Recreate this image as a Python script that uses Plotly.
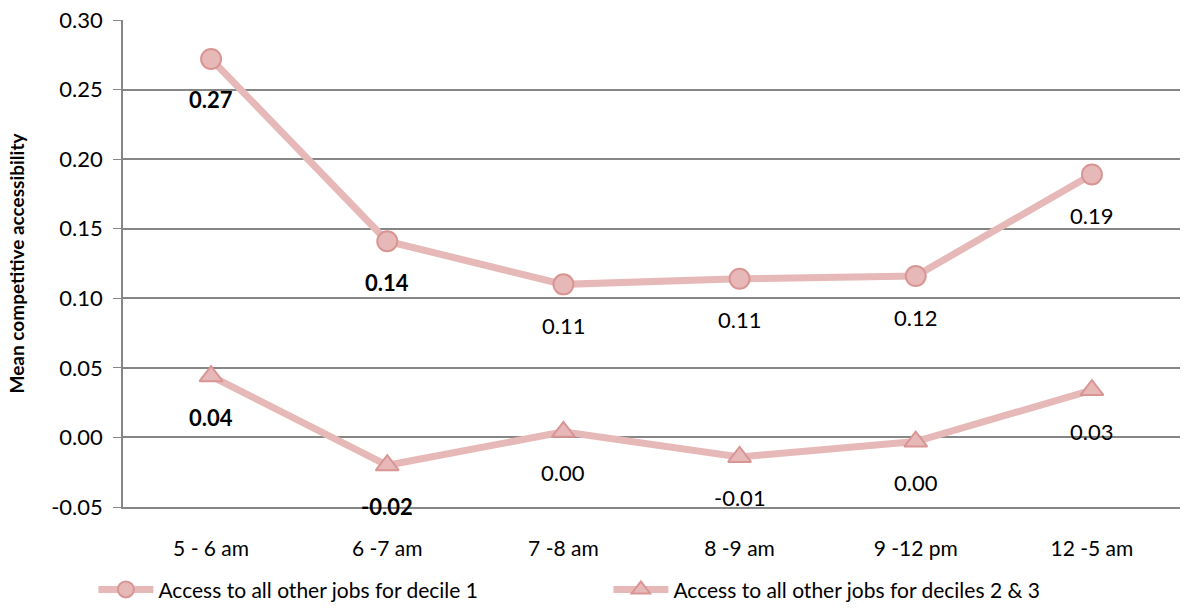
import plotly.graph_objects as go

categories = ["5 - 6 am", "6 -7 am", "7 -8 am", "8 -9 am", "9 -12 pm", "12 -5 am"]
decile1 = [0.272, 0.141, 0.110, 0.114, 0.116, 0.189]
decile1_labels = ["<b>0.27</b>", "<b>0.14</b>", "0.11", "0.11", "0.12", "0.19"]
deciles23 = [0.044, -0.020, 0.004, -0.014, -0.003, 0.034]
deciles23_labels = ["<b>0.04</b>", "<b>-0.02</b>", "0.00", "-0.01", "0.00", "0.03"]
y_ticks = [-0.05, 0.0, 0.05, 0.10, 0.15, 0.20, 0.25, 0.30]
y_tick_labels = ["-0.05", "0.00", "0.05", "0.10", "0.15", "0.20", "0.25", "0.30"]

LINE = "#E6B9B8"
EDGE = "#D99594"
FONT = "Lato, Open Sans, sans-serif"

fig = go.Figure()
fig.add_trace(go.Scatter(
    x=categories, y=decile1, mode="lines+markers",
    name="Access to all other jobs for decile 1",
    line=dict(color=LINE, width=7),
    marker=dict(symbol="circle", size=20, color=LINE, line=dict(color=EDGE, width=2)),
))
fig.add_trace(go.Scatter(
    x=categories, y=deciles23, mode="lines+markers",
    name="Access to all other jobs for deciles 2 & 3",
    line=dict(color=LINE, width=7),
    marker=dict(symbol="triangle-up", size=20, color=LINE, line=dict(color=EDGE, width=2)),
))

for vals, labs in ((decile1, decile1_labels), (deciles23, deciles23_labels)):
    for c, v, t in zip(categories, vals, labs):
        fig.add_annotation(x=c, y=v, text=t, showarrow=False, yshift=-41,
                           font=dict(family=FONT, size=22, color="black"))

fig.update_layout(
    width=1185, height=615,
    margin=dict(l=123, r=5, t=20, b=105),
    paper_bgcolor="white", plot_bgcolor="white",
    font=dict(family=FONT, size=21, color="black"),
    showlegend=True,
    legend=dict(orientation="h", x=-0.028, xanchor="left", y=-0.212, yanchor="bottom",
                font=dict(family=FONT, size=21), entrywidth=445, entrywidthmode="pixels",
                itemwidth=55, tracegroupgap=0),
    xaxis=dict(type="category", range=[-0.5, 5.5], showgrid=False,
               showline=True, linecolor="#868686", linewidth=1.5,
               ticks="", ticklabelstandoff=22, automargin=False,
               tickfont=dict(family=FONT, size=21)),
    yaxis=dict(range=[-0.05, 0.30], tickvals=y_ticks, ticktext=y_tick_labels,
               showgrid=True, gridcolor="#868686", gridwidth=1.5,
               showline=True, linecolor="#868686", linewidth=1.5,
               ticks="outside", ticklen=8, tickcolor="#868686",
               ticklabelstandoff=6, automargin=False,
               zeroline=False, tickfont=dict(family=FONT, size=22),
               title=dict(text="<b>Mean competitive accessibility</b>",
                          font=dict(family=FONT, size=19), standoff=22)),
)

fig.write_html("out.html", config={"displayModeBar": False})

# remove the default browser body margin so the figure sits at the window's corner
with open("out.html", "r", encoding="utf-8") as f:
    html = f.read()
html = html.replace("<body>", '<body style="margin:0;padding:0;overflow:hidden">', 1)
with open("out.html", "w", encoding="utf-8") as f:
    f.write(html)
